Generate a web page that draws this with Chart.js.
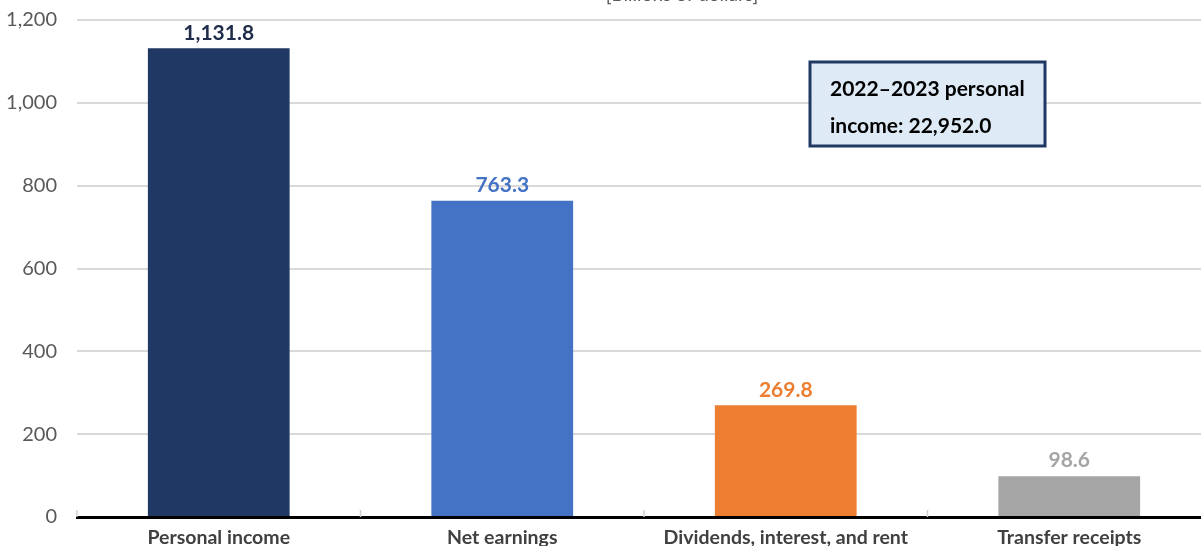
<!DOCTYPE html>
<html>
<head>
<meta charset="utf-8">
<script src="https://cdn.jsdelivr.net/npm/chart.js@4.4.1/dist/chart.umd.min.js"></script>
<style>
  html, body { margin: 0; padding: 0; background: #fff; overflow: hidden; }
  #wrap { position: absolute; left: 0; top: -12px; width: 1215px; height: 572px; }
</style>
</head>
<body>
<div id="wrap"><canvas id="c"></canvas></div>
<script>
const categories = ["Personal income", "Net earnings", "Dividends, interest, and rent", "Transfer receipts"];
const values = [1131.8, 763.3, 269.8, 98.6];
const barColors = ["#203864", "#4472C4", "#ED7D31", "#A5A5A5"];
const labelColors = ["#1F2D4A", "#4472C4", "#ED7D31", "#A5A5A5"];
const valueLabels = ["1,131.8", "763.3", "269.8", "98.6"];
const yTicks = [0, 200, 400, 600, 800, 1000, 1200];
const unitText = "[Billions of dollars]";
const noteLines = ["2022\u20132023 personal", "income: 22,952.0"];

const FONT = "Lato, 'Noto Sans', sans-serif";
const OFF = 12; // canvas offset (wrapper shifted up)

const overlay = {
  id: 'overlay',
  afterDatasetsDraw(chart) {
    const ctx = chart.ctx;
    const meta = chart.getDatasetMeta(0);
    ctx.save();
    ctx.font = "bold 21px " + FONT;
    ctx.textAlign = 'center';
    ctx.textBaseline = 'bottom';
    meta.data.forEach((bar, i) => {
      ctx.fillStyle = labelColors[i];
      ctx.fillText(valueLabels[i], bar.x, bar.y - 5);
    });
    const xs = chart.scales.x;
    const area = chart.chartArea;
    const step = xs.getPixelForValue(1) - xs.getPixelForValue(0);
    ctx.strokeStyle = '#d0d0d0';
    ctx.lineWidth = 1.5;
    for (let i = 0; i <= categories.length; i++) {
      const px = xs.getPixelForValue(0) - step / 2 + i * step;
      ctx.beginPath();
      ctx.moveTo(px, area.bottom - 7);
      ctx.lineTo(px, area.bottom);
      ctx.stroke();
    }
    ctx.font = "19px " + FONT;
    ctx.fillStyle = '#595959';
    ctx.textAlign = 'center';
    ctx.textBaseline = 'alphabetic';
    ctx.fillText(unitText, 682, 1 + OFF);
    const bx = 810, by = 62 + OFF, bw = 235, bh = 84;
    ctx.fillStyle = '#DEEAF6';
    ctx.fillRect(bx, by, bw, bh);
    ctx.strokeStyle = '#1F3864';
    ctx.lineWidth = 3;
    ctx.strokeRect(bx, by, bw, bh);
    ctx.fillStyle = '#000';
    ctx.font = "bold 21px " + FONT;
    ctx.textAlign = 'left';
    ctx.textBaseline = 'middle';
    ctx.fillText(noteLines[0], 830, 89 + OFF);
    ctx.fillText(noteLines[1], 830, 126 + OFF);
    ctx.restore();
  }
};

new Chart(document.getElementById('c'), {
  type: 'bar',
  data: {
    labels: categories,
    datasets: [{
      data: values,
      backgroundColor: barColors,
      borderWidth: 0,
      categoryPercentage: 1.0,
      barPercentage: 0.5
    }]
  },
  options: {
    responsive: true,
    maintainAspectRatio: false,
    animation: false,
    devicePixelRatio: 1,
    layout: { padding: { left: 0, right: 4, top: 7, bottom: 0 } },
    plugins: { legend: { display: false }, tooltip: { enabled: false }, title: { display: false } },
    scales: {
      x: {
        grid: { display: false, drawTicks: false },
        border: { display: true, color: '#000', width: 3 },
        ticks: { color: '#404040', font: { family: FONT, size: 19.5, weight: 'bold' }, padding: 9, maxRotation: 0, autoSkip: false },
        afterFit(s) { s.height = 43; }
      },
      y: {
        min: 0, max: 1200,
        afterBuildTicks(s) { s.ticks = yTicks.map(v => ({ value: v })); },
        grid: { color: '#d9d9d9', lineWidth: 2, drawTicks: false },
        border: { display: false },
        ticks: {
          color: '#595959',
          font: { family: FONT, size: 20 },
          padding: 20,
          callback: (v) => v.toLocaleString('en-US')
        },
        afterFit(s) { s.width = 77; }
      }
    }
  },
  plugins: [overlay]
});
</script>
</body>
</html>
